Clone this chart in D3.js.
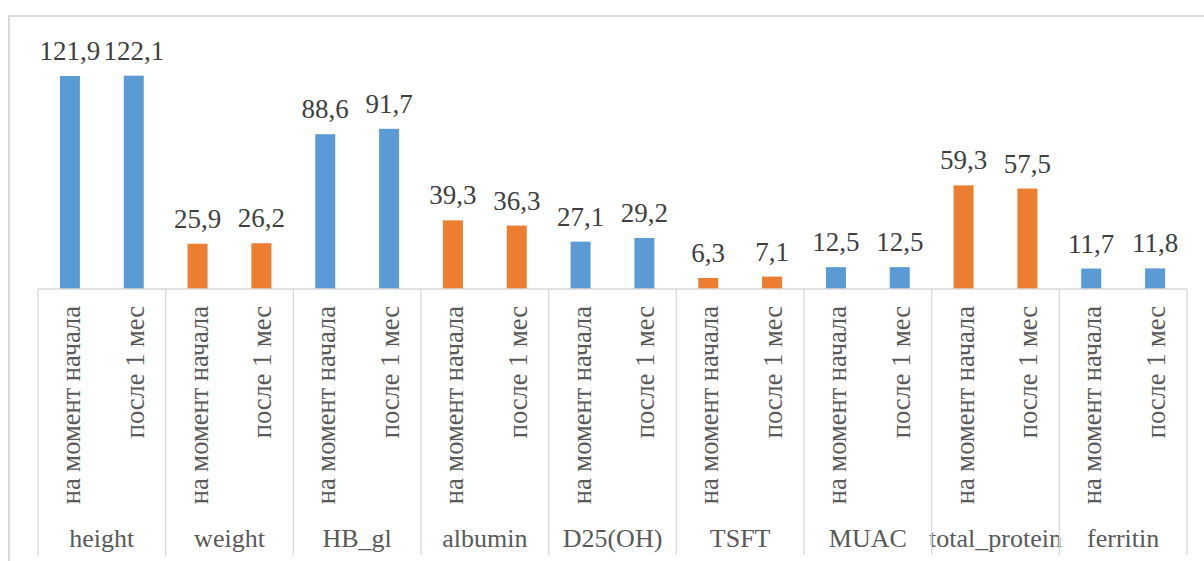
<!DOCTYPE html>
<html>
<head>
<meta charset="utf-8">
<script src="https://cdn.jsdelivr.net/npm/d3@7"></script>
<style>
  html, body { margin: 0; padding: 0; background: #ffffff; }
  svg { display: block; }
</style>
</head>
<body>
<svg id="chart" width="1204" height="561"></svg>
<script>
// Indicators and the two measurement points per indicator
const groups = ["height", "weight", "HB_gl", "albumin", "D25(OH)", "TSFT", "MUAC", "total_protein", "ferritin"];
const periods = ["на момент начала", "после 1 мес"];
const valuesStart = [121.9, 25.9, 88.6, 39.3, 27.1, 6.3, 12.5, 59.3, 11.7];
const valuesMonth = [122.1, 26.2, 91.7, 36.3, 29.2, 7.1, 12.5, 57.5, 11.8];
const palette = ["#5B9BD5", "#ED7D31"];

const FONT = "Liberation Serif";
const svg = d3.select("#chart");

// chart frame
svg.append("rect")
  .attr("x", 9).attr("y", 16)
  .attr("width", 1220).attr("height", 580)
  .attr("fill", "#ffffff")
  .attr("stroke", "#d9d9d9").attr("stroke-width", 2);

const plot = { left: 38, right: 1187, baseline: 289, bottom: 555 };

const x0 = d3.scaleBand().domain(groups).range([plot.left, plot.right]).paddingInner(0).paddingOuter(0);
const x1 = d3.scaleBand().domain(periods).range([0, x0.bandwidth()]).padding(0);
const y = d3.scaleLinear().domain([0, 140]).range([plot.baseline, plot.baseline - 140 * 1.747]);

const rows = groups.map((g, i) => ({
  group: g, idx: i,
  vals: [ { period: periods[0], v: valuesStart[i] }, { period: periods[1], v: valuesMonth[i] } ]
}));

const barW = 20;
const fmt = v => d3.format(".1f")(v).replace(".", ",");

const gGroups = svg.append("g").selectAll("g").data(rows).join("g")
  .attr("transform", d => `translate(${x0(d.group)},0)`);

gGroups.selectAll("rect").data(d => d.vals.map(v => ({ ...v, idx: d.idx }))).join("rect")
  .attr("x", d => x1(d.period) + x1.bandwidth() / 2 - barW / 2)
  .attr("y", d => y(d.v))
  .attr("width", barW)
  .attr("height", d => y(0) - y(d.v))
  .attr("fill", d => palette[d.idx % 2]);

gGroups.selectAll("text.val").data(d => d.vals).join("text")
  .attr("class", "val")
  .attr("x", d => x1(d.period) + x1.bandwidth() / 2)
  .attr("y", d => y(d.v) - 16)
  .attr("text-anchor", "middle")
  .style("font-family", FONT)
  .style("font-size", "27px")
  .attr("fill", "#404040")
  .text(d => fmt(d.v));

// category axis: baseline and group dividers
const axis = svg.append("g");
axis.append("line")
  .attr("x1", plot.left).attr("x2", plot.right)
  .attr("y1", plot.baseline).attr("y2", plot.baseline)
  .attr("stroke", "#d9d9d9").attr("stroke-width", 1.3);

const dividers = groups.map(g => x0(g)).concat([plot.right]);
axis.selectAll("line.div").data(dividers).join("line")
  .attr("class", "div")
  .attr("x1", d => d).attr("x2", d => d)
  .attr("y1", plot.baseline).attr("y2", plot.bottom)
  .attr("stroke", "#d9d9d9").attr("stroke-width", 1.3);

// rotated period labels
gGroups.selectAll("text.per").data(d => d.vals).join("text")
  .attr("class", "per")
  .attr("transform", d => `translate(${x1(d.period) + x1.bandwidth() / 2 + 10},306) rotate(-90)`)
  .attr("text-anchor", "end")
  .style("font-family", FONT)
  .style("font-size", "26.5px")
  .attr("fill", "#595959")
  .text(d => d.period);

// group labels
gGroups.append("text")
  .attr("x", x0.bandwidth() / 2)
  .attr("y", 547)
  .attr("text-anchor", "middle")
  .style("font-family", FONT)
  .style("font-size", "26px")
  .attr("fill", "#595959")
  .text(d => d.group);
</script>
</body>
</html>
